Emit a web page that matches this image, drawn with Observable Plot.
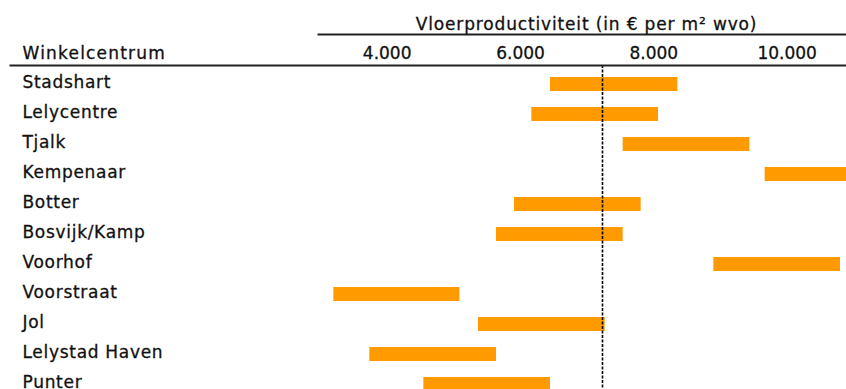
<!DOCTYPE html>
<html><head><meta charset="utf-8">
<script src="https://cdn.jsdelivr.net/npm/d3@7"></script>
<script src="https://cdn.jsdelivr.net/npm/@observablehq/plot@0.6"></script>
<style>
html,body{margin:0;padding:0;background:#fff;overflow:hidden}
svg text{stroke:#111;stroke-width:0.3px}
g[aria-label="y-axis tick label"] text{letter-spacing:0.7px}
.hdr text{letter-spacing:1.2px}
.ttl text{letter-spacing:0.85px}
</style>
</head><body><div id="chart"></div>
<script>
// Data
const centres = ["Stadshart","Lelycentre","Tjalk","Kempenaar","Botter","Bosvijk/Kamp","Voorhof","Voorstraat","Jol","Lelystad Haven","Punter"];
const lowValues  = [6450, 6170, 7540,  9670, 5910, 5640,  8900, 3200, 5370, 3740, 4550];
const highValues = [8360, 8070, 9440, 11570, 7810, 7540, 10800, 5090, 7270, 5640, 6450];
const tickValues = [4000, 6000, 8000, 10000];
const tickLabels = ["4.000", "6.000", "8.000", "10.000"];
const referenceValue = 7230;
const axisTitle = "Vloerproductiviteit (in € per m² wvo)";
const rowHeader = "Winkelcentrum";

const rows = centres.map((name, i) => ({name, low: lowValues[i], high: highValues[i]}));

const plot = Plot.plot({
  width: 846, height: 389,
  marginTop: 65, marginLeft: 10, marginRight: 0, marginBottom: 0,
  style: {fontFamily: "DejaVu Sans", fontSize: "17px", color: "#111", background: "#fff"},
  x: {domain: [-1650, 10890]},
  y: {domain: centres, range: [69.5, 399.5], paddingInner: 0.52, paddingOuter: 0.26, align: 0.5},
  marks: [
    Plot.barX(rows, {y: "name", x1: "low", x2: "high", fill: "#ff9a00"}),
    Plot.ruleX([referenceValue], {stroke: "#000", strokeWidth: 1.6, strokeDasharray: "3,1.5"}),
    Plot.frame({anchor: "top", strokeWidth: 2, stroke: "#222"}),
    Plot.frame({anchor: "top", insetTop: -31, insetLeft: 308, strokeWidth: 2, stroke: "#222"}),
    Plot.axisX({anchor: "top", ticks: tickValues, tickFormat: d => tickLabels[tickValues.indexOf(d)], tickSize: 0, tickPadding: 6.5, label: null}),
    Plot.axisY({anchor: "left", tickSize: 0, tickPadding: -12, textAnchor: "start", dy: -2, label: null}),
    Plot.text([rowHeader], {text: d => d, frameAnchor: "top-left", dx: 12, dy: -6.5, lineAnchor: "bottom", textAnchor: "start", className: "hdr"}),
    Plot.text([axisTitle], {text: d => d, frameAnchor: "top", dx: 158, dy: -35.5, lineAnchor: "bottom", className: "ttl"})
  ]
});
document.getElementById("chart").appendChild(plot);
</script>
</body></html>
